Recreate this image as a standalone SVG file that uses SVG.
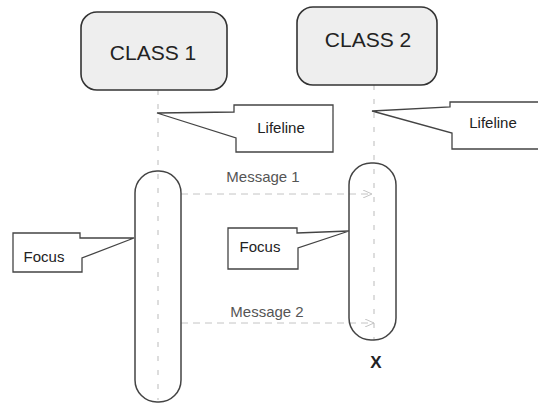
<svg xmlns="http://www.w3.org/2000/svg" width="538" height="405" viewBox="0 0 538 405">
<style>
text{font-family:"Liberation Sans",Arial,sans-serif;fill:#222}
.cls{fill:#eeeeee;stroke:#333;stroke-width:1.6}
.cls-t{font-size:21px;text-anchor:middle}
.call{fill:#fff;stroke:#444;stroke-width:1.3;stroke-linejoin:miter}
.lbl{font-size:15px;text-anchor:middle}
.life{stroke:#bbb;stroke-width:1;stroke-dasharray:5 9;fill:none}
.focus{fill:none;stroke:#444;stroke-width:1.5}
.msg{stroke:#c4c4c4;stroke-width:1;stroke-dasharray:7 5;fill:none}
.mt{font-size:15px;text-anchor:middle;fill:#555}
</style>
<defs>
<marker id="ah" markerWidth="10" markerHeight="8" refX="9" refY="4" orient="auto" markerUnits="userSpaceOnUse">
<path d="M0,0 L9,4 L0,8" fill="none" stroke="#c4c4c4" stroke-width="1"/>
</marker>
</defs>
<rect width="538" height="405" fill="#fff"/>
<g id="connectors">
<line class="life" x1="158" y1="90" x2="158" y2="400"/>
<line class="life" x1="374" y1="85" x2="374" y2="340"/>
<line class="msg" x1="181" y1="194" x2="372" y2="194" marker-end="url(#ah)"/>
<line class="msg" x1="181" y1="323" x2="374" y2="323" marker-end="url(#ah)"/>
</g>
<g id="class1">
<rect class="cls" x="81" y="12" width="146" height="78" rx="16"/>
<text class="cls-t" x="153" y="60">CLASS 1</text>
</g>
<g id="class2">
<rect class="cls" x="297" y="7" width="140" height="78" rx="16"/>
<text class="cls-t" x="368" y="47">CLASS 2</text>
</g>
<g id="focus-bar1">
<rect class="focus" x="135" y="171" width="46" height="231" rx="22"/>
</g>
<g id="focus-bar2">
<rect class="focus" x="349" y="163" width="47" height="177" rx="22"/>
</g>
<g id="lifeline-callout1">
<polygon class="call" points="157,113 234,112 234,105 333,105 333,152 236,152 236,138"/>
<text class="lbl" x="281" y="133">Lifeline</text>
</g>
<g id="lifeline-callout2">
<polygon class="call" points="372,111 450,107 450,102 545,102 545,149 452,149 452,133"/>
<text class="lbl" x="493" y="128">Lifeline</text>
</g>
<g id="focus-callout1">
<polygon class="call" points="13,233 80,233 80,238 134,238 82,258 82,272 13,272"/>
<text class="lbl" x="44" y="262">Focus</text>
</g>
<g id="focus-callout2">
<polygon class="call" points="228,228 297,228 297,233 349,231 298,248 298,269 228,269"/>
<text class="lbl" x="260" y="252">Focus</text>
</g>
<g id="message1">
<text class="mt" x="263" y="182">Message 1</text>
</g>
<g id="message2">
<text class="mt" x="267" y="317">Message 2</text>
</g>
<g id="destroy">
<text x="376" y="368" style="font-size:17px;font-weight:bold;text-anchor:middle">X</text>
</g>
</svg>
